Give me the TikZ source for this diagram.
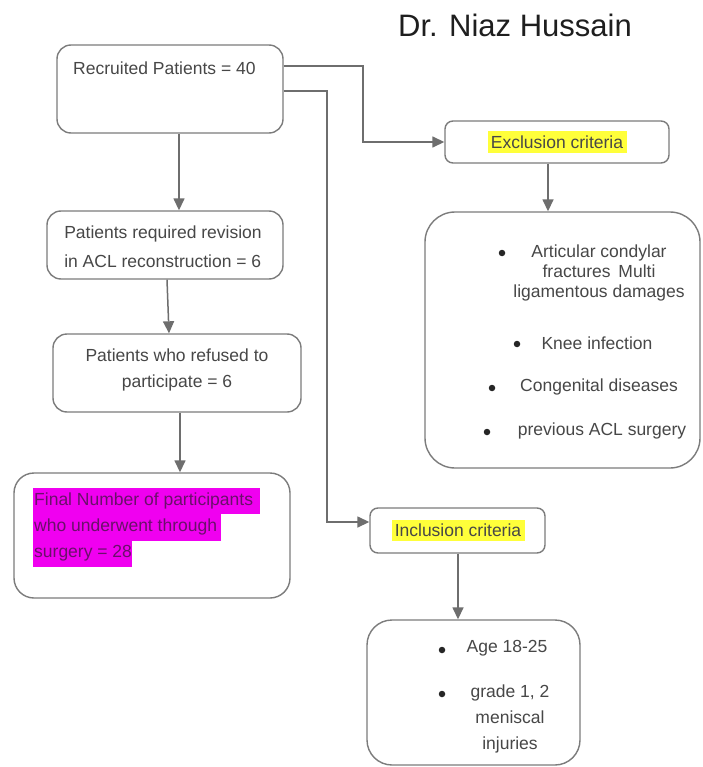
\documentclass[tikz,border=0pt]{standalone}
\usepackage{fontspec}
\setmainfont{Liberation Sans}
\usetikzlibrary{arrows.meta}
\definecolor{linegray}{HTML}{6E6E6E}
\definecolor{boxgray}{HTML}{7C7C7C}
\definecolor{txtgray}{HTML}{474747}
\definecolor{titlecol}{HTML}{1E1E1E}
\definecolor{hlyellow}{HTML}{FFFF3A}
\definecolor{hlmagenta}{HTML}{F000F0}
\definecolor{magtext}{HTML}{6A106A}
\tikzset{
  box/.style={draw=boxgray, line width=1.4pt, rounded corners=14pt, inner sep=0pt, fill=white},
  txt/.style={text=txtgray, inner sep=0pt, font=\fontsize{17.5}{20}\selectfont},
  bul/.style={circle, fill=black!85, inner sep=0pt, minimum size=6.5pt},
  mtxt/.style={text=magtext, inner sep=0pt, anchor=west, font=\fontsize{17.5}{20}\selectfont},
  arr/.style={draw=linegray, line width=1.5pt, -{Triangle[length=12pt,width=11pt]}},
}
\begin{document}
\begin{tikzpicture}[x=1pt,y=-1pt]
\useasboundingbox (0,0) rectangle (702,767);
\fill[white] (0,0) rectangle (702,767);

% title
\node[text=titlecol, inner sep=0pt, font=\fontsize{31}{35}\selectfont] (title) at (515,25) {Dr. Niaz Hussain};

% left column
\node[box, minimum width=226pt, minimum height=88pt] (rec) at (170,89) {};
\node[txt, anchor=west] (rectxt) at (73,68) {Recruited Patients = 40};

\node[box, minimum width=236pt, minimum height=68pt] (rev) at (165,245) {};
\node[txt, align=left, font=\fontsize{17.5}{29}\selectfont] (revtxt) at (163,247) {Patients required revision\\in ACL reconstruction = 6};

\node[box, minimum width=248pt, minimum height=78pt] (ref) at (177,373) {};
\node[txt, align=center, font=\fontsize{17.5}{26}\selectfont] (reftxt) at (177,370) {Patients who refused to\\participate = 6};

\node[box, rounded corners=20pt, minimum width=276pt, minimum height=125pt] (fin) at (152,535.5) {};
\fill[hlmagenta] (33,488) rectangle (260,513.5);
\fill[hlmagenta] (33,513) rectangle (221,540.5);
\fill[hlmagenta] (33,540) rectangle (132,567);
\node[mtxt] (fin1) at (34,500.5) {Final Number of participants};
\node[mtxt] (fin2) at (34,526.5) {who underwent through};
\node[mtxt] (fin3) at (34,553) {surgery = 28};

% exclusion
\node[box, rounded corners=8pt, minimum width=224pt, minimum height=42pt] (exc) at (557,142) {};
\fill[hlyellow] (488,131) rectangle (627,153);
\node[txt] (exctxt) at (557,142) {Exclusion criteria};

\node[box, rounded corners=30pt, minimum width=275pt, minimum height=256pt] (exclist) at (562.5,340) {};
\node[txt, align=center] (e1) at (599,272.5) {Articular condylar\\fractures\, Multi\\ligamentous damages};
\node[bul] (b1) at (502,253) {};
\node[txt] (e2) at (597,343) {Knee infection};
\node[bul] (b2) at (517,344) {};
\node[txt] (e3) at (599,387) {Congenital diseases};
\node[bul] (b3) at (492,388) {};
\node[txt] (e4) at (602,431) {previous ACL surgery};
\node[bul] (b4) at (487,432) {};

% inclusion
\node[box, rounded corners=8pt, minimum width=175pt, minimum height=45pt] (inc) at (457.5,530.5) {};
\fill[hlyellow] (392,520) rectangle (525,541);
\node[txt] (inctxt) at (458,530.5) {Inclusion criteria};

\node[box, rounded corners=25pt, minimum width=213pt, minimum height=145pt] (inclist) at (473.5,692.5) {};
\node[txt] (i1) at (507,648) {Age 18-25};
\node[bul] (b5) at (442,650) {};
\node[txt, align=center, font=\fontsize{17.5}{26}\selectfont] (i2) at (510,719) {grade 1, 2\\meniscal\\injuries};
\node[bul] (b6) at (442,694) {};

% connectors
\coordinate (a1) at (179,0);
\coordinate (a2) at (167,0);
\coordinate (a3) at (169,0);
\coordinate (a4) at (180,0);
\coordinate (p1) at (0,66);
\coordinate (p2) at (363,0);
\coordinate (q1) at (0,91);
\coordinate (q2) at (327,522);
\coordinate (r1) at (548,0);
\coordinate (r2) at (458,0);

\draw[arr] (rec.south -| a1) -- (rev.north -| a1);
\draw[arr] (rev.south -| a2) -- (ref.north -| a3);
\draw[arr] (ref.south -| a4) -- (fin.north -| a4);
\draw[arr] (rec.east |- p1) -| (p2 |- exc.west) -- (exc.west);
\draw[arr] (rec.east |- q1) -| (q2) -- (inc.west |- q2);
\draw[arr] (exc.south -| r1) -- (exclist.north -| r1);
\draw[arr] (inc.south -| r2) -- (inclist.north -| r2);
\end{tikzpicture}
\end{document}
